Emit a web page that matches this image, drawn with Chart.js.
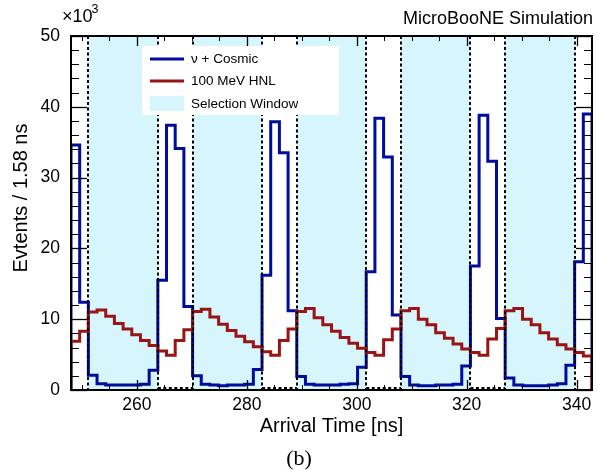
<!DOCTYPE html>
<html>
<head>
<meta charset="utf-8">
<title>Arrival time - MicroBooNE Simulation (b)</title>
<script src="https://cdn.jsdelivr.net/npm/chart.js@4.4.1/dist/chart.umd.min.js"></script>
<style>
  html, body { margin: 0; padding: 0; background: #fff; }
  #wrap { position: relative; width: 598px; height: 470px; }
</style>
</head>
<body>
<div id="wrap"><canvas id="chart" width="598" height="470"></canvas></div>
<script>
// Histogram binning, ns
const BIN_LOW = 248.0;
const BIN_WIDTH = 1.58;
const X_MIN = 248.0;
const X_MAX = 342.8;

// nu + Cosmic, events per bin (x10^3), 60 bins
const nuCosmic = [
  34.6, 12.4, 2.1, 0.9, 0.7, 0.7, 0.7, 0.7, 0.8, 2.8, 15.5, 37.4,
  34.1, 11.8, 2.0, 0.8, 0.7, 0.6, 0.7, 0.7, 0.8, 2.9, 16.2, 37.9,
  33.5, 11.2, 1.9, 0.8, 0.7, 0.7, 0.7, 0.8, 0.9, 3.2, 16.7, 38.4,
  32.9, 10.6, 1.9, 0.7, 0.6, 0.6, 0.7, 0.7, 0.8, 3.4, 17.5, 38.8,
  32.3, 10.1, 1.7, 0.7, 0.6, 0.6, 0.6, 0.7, 0.9, 3.5, 18.1, 39.0
];

// 100 MeV HNL (scaled), same bins
const hnl100 = [
  6.9, 8.3, 11.0, 11.3, 10.4, 9.4, 8.6, 7.8, 7.0, 6.3, 5.5, 4.9,
  7.0, 8.5, 11.1, 11.4, 10.3, 9.3, 8.4, 7.6, 6.8, 6.1, 5.4, 4.9,
  7.0, 8.6, 11.1, 11.5, 10.2, 9.2, 8.3, 7.4, 6.6, 5.9, 5.3, 4.9,
  7.1, 8.6, 11.2, 11.5, 10.0, 9.2, 8.1, 7.3, 6.5, 5.8, 5.3, 4.9,
  7.2, 8.7, 11.2, 11.5, 10.0, 9.2, 8.1, 7.2, 6.4, 5.8, 5.3, 4.8
];

// selection windows [start, end] in ns
const selectionWindows = [
  [251.16, 263.80],
  [270.12, 282.76],
  [289.08, 301.72],
  [308.04, 320.68],
  [327.00, 339.64]
];

const xTicks = [260, 280, 300, 320, 340];
const yTicks = [0, 10, 20, 30, 40, 50];
const xMinorTicks = [250, 255, 265, 270, 275, 285, 290, 295, 305, 310, 315, 325, 330, 335];
const yMinorTicks = [2, 4, 6, 8, 12, 14, 16, 18, 22, 24, 26, 28, 32, 34, 36, 38, 42, 44, 46, 48];

const legendItems = [
  { label: 'ν + Cosmic', kind: 'line', color: '#000c9c' },
  { label: '100 MeV HNL', kind: 'line', color: '#991414' },
  { label: 'Selection Window', kind: 'box', color: '#d6f5fc' }
];

const FONT = '"Liberation Sans", Arial, Helvetica, sans-serif';
const WINDOW_FILL = '#d6f5fc';

// turn bin contents into step points (lower edges + closing edge)
function histPoints(values) {
  const pts = [{ x: BIN_LOW, y: 0 }];
  values.forEach((v, i) => pts.push({ x: BIN_LOW + i * BIN_WIDTH, y: v }));
  const hi = BIN_LOW + values.length * BIN_WIDTH;
  pts.push({ x: hi, y: values[values.length - 1] });
  pts.push({ x: hi, y: 0 });
  return pts;
}

const rootStyle = {
  id: 'rootStyle',
  beforeDatasetsDraw(chart) {
    const { ctx, chartArea: a, scales: { x } } = chart;
    ctx.save();
    ctx.fillStyle = WINDOW_FILL;
    selectionWindows.forEach(([s, e]) => {
      const x0 = x.getPixelForValue(s);
      const x1 = x.getPixelForValue(e);
      ctx.fillRect(x0, a.top, x1 - x0, a.bottom - a.top);
    });
    ctx.restore();
  },
  afterDatasetsDraw(chart) {
    const { ctx, chartArea: a, scales: { x, y } } = chart;
    ctx.save();

    // dashed window edges
    ctx.strokeStyle = '#000';
    ctx.lineWidth = 2;
    ctx.setLineDash([3, 2.5]);
    selectionWindows.forEach(([s, e]) => {
      [s, e].forEach((v) => {
        const px = Math.round(x.getPixelForValue(v));
        ctx.beginPath();
        ctx.moveTo(px, a.top);
        ctx.lineTo(px, a.bottom);
        ctx.stroke();
      });
    });
    // dashed bottom between windows
    for (let i = 0; i < selectionWindows.length - 1; i++) {
      const x0 = x.getPixelForValue(selectionWindows[i][1]);
      const x1 = x.getPixelForValue(selectionWindows[i + 1][0]);
      ctx.beginPath();
      ctx.moveTo(x0, a.bottom - 2);
      ctx.lineTo(x1, a.bottom - 2);
      ctx.stroke();
    }
    ctx.setLineDash([]);

    // ticks, drawn inward like ROOT
    ctx.strokeStyle = '#000';
    const tick = (x0, y0, x1, y1, w) => {
      ctx.lineWidth = w;
      ctx.beginPath();
      ctx.moveTo(x0, y0);
      ctx.lineTo(x1, y1);
      ctx.stroke();
    };
    yTicks.forEach((v) => {
      const py = Math.round(y.getPixelForValue(v)) + 0.5;
      tick(a.left, py, a.left + 16, py, 1.3);
      tick(a.right, py, a.right - 16, py, 1.3);
    });
    yMinorTicks.forEach((v) => {
      const py = Math.round(y.getPixelForValue(v)) + 0.5;
      tick(a.left, py, a.left + 8, py, 1);
      tick(a.right, py, a.right - 8, py, 1);
    });
    xTicks.forEach((v) => {
      const px = Math.round(x.getPixelForValue(v)) + 0.5;
      tick(px, a.bottom, px, a.bottom - 10, 1.3);
      tick(px, a.top, px, a.top + 10, 1.3);
    });
    xMinorTicks.forEach((v) => {
      const px = Math.round(x.getPixelForValue(v)) + 0.5;
      tick(px, a.bottom, px, a.bottom - 5, 1);
      tick(px, a.top, px, a.top + 5, 1);
    });

    // frame
    ctx.lineWidth = 2;
    ctx.strokeRect(a.left, a.top, a.right - a.left, a.bottom - a.top);

    // legend
    const lx = 142, ly = 46, lw = 197, lh = 69;
    ctx.fillStyle = '#fff';
    ctx.fillRect(lx, ly, lw, lh);
    ctx.font = '13.5px ' + FONT;
    ctx.textBaseline = 'middle';
    ctx.textAlign = 'left';
    const rowsY = [59, 81, 103.5];
    legendItems.forEach((it, i) => {
      const ry = rowsY[i];
      if (it.kind === 'line') {
        ctx.strokeStyle = it.color;
        ctx.lineWidth = 3;
        ctx.beginPath();
        ctx.moveTo(150, ry);
        ctx.lineTo(184, ry);
        ctx.stroke();
      } else {
        ctx.fillStyle = it.color;
        ctx.fillRect(150, ry - 7.5, 34, 15);
      }
      ctx.fillStyle = '#000';
      ctx.fillText(it.label, 191, ry + 0.5);
    });

    // texts around the frame
    ctx.fillStyle = '#000';
    ctx.font = '18px ' + FONT;
    ctx.textAlign = 'right';
    ctx.textBaseline = 'alphabetic';
    ctx.fillText('MicroBooNE Simulation', 593, 24);

    ctx.textAlign = 'left';
    ctx.font = '18px ' + FONT;
    ctx.fillText('×10', 62, 22);
    ctx.font = '12.5px ' + FONT;
    ctx.fillText('3', 91.5, 13);

    ctx.font = '20px ' + FONT;
    ctx.textAlign = 'center';
    ctx.fillText('Arrival Time [ns]', (a.left + a.right) / 2, 432);

    ctx.save();
    ctx.translate(27, 198);
    ctx.rotate(-Math.PI / 2);
    ctx.fillText('Evtents / 1.58 ns', 0, 0);
    ctx.restore();

    ctx.font = '22px "Liberation Serif", "DejaVu Serif", serif';
    ctx.fillText('(b)', 299, 465);

    ctx.restore();
  }
};

new Chart(document.getElementById('chart'), {
  type: 'line',
  data: {
    datasets: [
      {
        label: 'ν + Cosmic',
        data: histPoints(nuCosmic),
        borderColor: '#000c9c',
        borderWidth: 3,
        stepped: 'before',
        pointRadius: 0,
        fill: false,
        order: 1
      },
      {
        label: '100 MeV HNL',
        data: histPoints(hnl100),
        borderColor: '#991414',
        borderWidth: 3,
        stepped: 'before',
        pointRadius: 0,
        fill: false,
        order: 0
      }
    ]
  },
  options: {
    responsive: false,
    animation: false,
    layout: { padding: { left: 0, top: 36, right: 6, bottom: 0 } },
    plugins: {
      legend: { display: false },
      tooltip: { enabled: false },
      title: { display: false }
    },
    scales: {
      x: {
        type: 'linear',
        min: X_MIN,
        max: X_MAX,
        afterFit: (s) => { s.height = 80; },
        afterBuildTicks: (s) => { s.ticks = xTicks.map((v) => ({ value: v })); },
        grid: { display: false, drawTicks: false },
        border: { display: false },
        ticks: { padding: 5, color: '#000', font: { family: FONT, size: 17.5 }, maxRotation: 0 }
      },
      y: {
        min: 0,
        max: 50,
        afterFit: (s) => { s.width = 71; },
        afterBuildTicks: (s) => { s.ticks = yTicks.map((v) => ({ value: v })); },
        grid: { display: false, drawTicks: false },
        border: { display: false },
        ticks: { padding: 11, color: '#000', font: { family: FONT, size: 17.5 } }
      }
    }
  },
  plugins: [rootStyle]
});
</script>
</body>
</html>
